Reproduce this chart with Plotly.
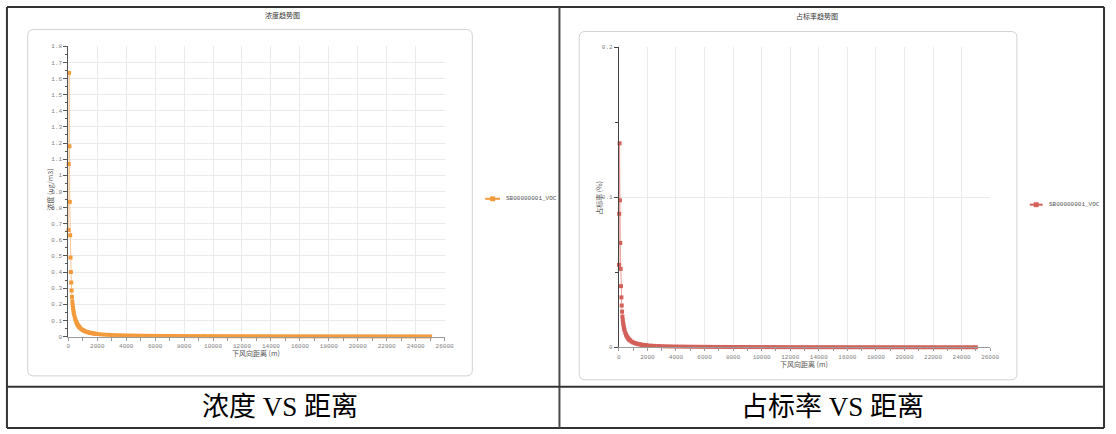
import plotly.graph_objects as go

W, H = 1116, 434

# Downwind distance (m) of each receptor
distance_m = [10, 25, 50, 75, 100, 125, 150, 175, 200, 225, 250, 275, 300, 325, 350, 375, 400,
              450, 500, 550, 600, 650, 700, 750, 800,
              900, 1000, 1100, 1200, 1300, 1400, 1500, 1600, 1700, 1800, 1900, 2000,
              2250,
              2500, 2750, 3000, 3250, 3500, 3750, 4000, 4250, 4500, 4750,
              5000, 5250, 5500, 5750, 6000, 6250, 6500, 6750, 7000, 7250,
              7500, 7750, 8000, 8250, 8500, 8750, 9000, 9250, 9500, 9750,
              10000, 10250, 10500, 10750, 11000, 11250, 11500, 11750, 12000, 12250,
              12500, 12750, 13000, 13250, 13500, 13750, 14000, 14250, 14500, 14750,
              15000, 15250, 15500, 15750, 16000, 16250, 16500, 16750, 17000, 17250,
              17500, 17750, 18000, 18250, 18500, 18750, 19000, 19250, 19500, 19750,
              20000, 20250, 20500, 20750, 21000, 21250, 21500, 21750, 22000, 22250,
              22500, 22750, 23000, 23250, 23500, 23750, 24000, 24250, 24500, 24750,
              25000]

# Ground-level concentration (ug/m3)
concentration = [0.66, 1.07, 1.635, 1.18, 0.835, 0.628, 0.49, 0.40, 0.335, 0.285, 0.246, 0.218, 0.196, 0.177, 0.161, 0.148, 0.136,
                 0.117, 0.102, 0.090, 0.080, 0.072, 0.065, 0.059, 0.054,
                 0.046, 0.040, 0.035, 0.031, 0.028, 0.025, 0.023, 0.021, 0.0195, 0.018, 0.0168, 0.0157,
                 0.0135,
                 0.0118, 0.0105, 0.0094, 0.0085, 0.0078, 0.0071, 0.0066, 0.0061, 0.0057, 0.0053,
                 0.0050, 0.0047, 0.0045, 0.0042, 0.0040, 0.0038, 0.0037, 0.0035, 0.0034, 0.0032,
                 0.0031, 0.0030, 0.0029, 0.0028, 0.0027, 0.0026, 0.0025, 0.0024, 0.0024, 0.0023,
                 0.0022, 0.0022, 0.0021, 0.0020, 0.0020, 0.0019, 0.0019, 0.0018, 0.0018, 0.0017,
                 0.0017, 0.0016, 0.0016, 0.0016, 0.0015, 0.0015, 0.0015, 0.0014, 0.0014, 0.0014,
                 0.0013, 0.0013, 0.0013, 0.0013, 0.0012, 0.0012, 0.0012, 0.0012, 0.0011, 0.0011,
                 0.0011, 0.0011, 0.0011, 0.0010, 0.0010, 0.0010, 0.0010, 0.0010, 0.00095, 0.00094,
                 0.00092, 0.00091, 0.00089, 0.00088, 0.00086, 0.00085, 0.00083, 0.00082, 0.00081, 0.00080,
                 0.00078, 0.00077, 0.00076, 0.00075, 0.00074, 0.00073, 0.00072, 0.00071, 0.00070, 0.00069,
                 0.00068]

# Share of the standard limit (%)
ratio_pct = [0.055, 0.089, 0.136, 0.098, 0.0696, 0.0523, 0.0408, 0.0333, 0.0279, 0.0238, 0.0205, 0.0182, 0.0163, 0.0148, 0.0134, 0.0123, 0.0113,
             0.0098, 0.0085, 0.0075, 0.0067, 0.0060, 0.0054, 0.0049, 0.0045,
             0.0038, 0.0033, 0.0029, 0.0026, 0.0023, 0.0021, 0.0019, 0.00175, 0.0016, 0.0015, 0.0014, 0.0013,
             0.00113,
             0.00098, 0.00088, 0.00078, 0.00071, 0.00065, 0.00059, 0.00055, 0.00051, 0.00048, 0.00044,
             0.00042, 0.00039, 0.00038, 0.00035, 0.00033, 0.00032, 0.00031, 0.00029, 0.00028, 0.00027,
             0.00026, 0.00025, 0.00024, 0.00023, 0.00023, 0.00022, 0.00021, 0.00020, 0.00020, 0.00019,
             0.00018, 0.00018, 0.00018, 0.00017, 0.00017, 0.00016, 0.00016, 0.00015, 0.00015, 0.00014,
             0.00014, 0.00013, 0.00013, 0.00013, 0.00013, 0.00012, 0.00012, 0.00012, 0.00012, 0.00012,
             0.00011, 0.00011, 0.00011, 0.00011, 0.00010, 0.00010, 0.00010, 0.00010, 0.000092, 0.000092,
             0.000092, 0.000092, 0.000092, 0.000083, 0.000083, 0.000083, 0.000083, 0.000083, 0.000079, 0.000078,
             0.000077, 0.000076, 0.000074, 0.000073, 0.000072, 0.000071, 0.000069, 0.000068, 0.000068, 0.000067,
             0.000065, 0.000064, 0.000063, 0.000063, 0.000062, 0.000061, 0.000060, 0.000059, 0.000058, 0.000058,
             0.000057]

series_name = "SB00000001_VOC"
chart_titles = ["浓度趋势图", "占标率趋势图"]
y_titles = ["浓度 (ug/m3)", "占标率 (%)"]
x_title = "下风向距离 (m)"
captions = ["浓度 VS 距离", "占标率 VS 距离"]

ORANGE = "#f39a3b"
ORANGE_LINE = "#f7c592"
RED = "#d4605a"
RED_LINE = "#e8a09b"


def fx(px):
    return px / W


def fy(py):
    return 1 - py / H


def rounded_box(x0, y0, x1, y1, r):
    p = [
        f"M{fx(x0 + r)},{fy(y0)}",
        f"L{fx(x1 - r)},{fy(y0)}",
        f"Q{fx(x1)},{fy(y0)} {fx(x1)},{fy(y0 + r)}",
        f"L{fx(x1)},{fy(y1 - r)}",
        f"Q{fx(x1)},{fy(y1)} {fx(x1 - r)},{fy(y1)}",
        f"L{fx(x0 + r)},{fy(y1)}",
        f"Q{fx(x0)},{fy(y1)} {fx(x0)},{fy(y1 - r)}",
        f"L{fx(x0)},{fy(y0 + r)}",
        f"Q{fx(x0)},{fy(y0)} {fx(x0 + r)},{fy(y0)}",
        "Z",
    ]
    return dict(type="path", path=" ".join(p), xref="paper", yref="paper",
                line=dict(color="#d2d2d2", width=1), layer="below")


def line_px(x0, y0, x1, y1, color, width):
    return dict(type="line", xref="paper", yref="paper",
                x0=fx(x0), y0=fy(y0), x1=fx(x1), y1=fy(y1),
                line=dict(color=color, width=width))


fig = go.Figure()

fig.add_trace(go.Scatter(
    x=distance_m, y=concentration, name=series_name, mode="lines+markers",
    line=dict(color=ORANGE_LINE, width=1),
    marker=dict(symbol="square", size=4, color=ORANGE),
    xaxis="x", yaxis="y", showlegend=False, cliponaxis=False,
))
fig.add_trace(go.Scatter(
    x=distance_m, y=ratio_pct, name=series_name, mode="lines+markers",
    line=dict(color=RED_LINE, width=1),
    marker=dict(symbol="square", size=4, color=RED),
    xaxis="x2", yaxis="y2", showlegend=False, cliponaxis=False,
))

tick_font = dict(family="Liberation Mono, DejaVu Sans Mono", size=6, color="#808080")
grid_col = "#ebebeb"

xcommon = dict(range=[0, 26000], dtick=2000, tick0=0, tickformat="d", showgrid=True,
               gridcolor=grid_col, gridwidth=1, zeroline=False, showline=True,
               linecolor="#9a9a9a", ticks="outside", ticklen=3, tickcolor="#9a9a9a",
               tickfont=tick_font,
               minor=dict(dtick=1000, ticks="outside", ticklen=3, tickcolor="#9a9a9a", showgrid=False))

fig.update_layout(
    width=W, height=H, margin=dict(l=0, r=0, t=0, b=0),
    paper_bgcolor="white", plot_bgcolor="white",
    xaxis=dict(domain=[fx(67), fx(447)], anchor="y", **xcommon),
    yaxis=dict(domain=[fy(339), fy(44)], anchor="x", range=[0, 1.8], dtick=0.1, tick0=0,
               showgrid=True, gridcolor=grid_col, zeroline=False, showline=True,
               linecolor="#555555", ticks="outside", ticklen=4, tickcolor="#555555",
               tickfont=tick_font,
               minor=dict(dtick=0.05, ticks="outside", ticklen=2, tickcolor="#555555", showgrid=False)),
    xaxis2=dict(domain=[fx(623), fx(998)], anchor="y2", **xcommon),
    yaxis2=dict(domain=[fy(350), fy(45)], anchor="x2", range=[0, 0.2], dtick=0.1, tick0=0,
                showgrid=True, gridcolor=grid_col, zeroline=False, showline=True,
                linecolor="#444444", ticks="outside", ticklen=4, tickcolor="#444444",
                tickfont=tick_font,
                minor=dict(dtick=0.05, ticks="outside", ticklen=3, tickcolor="#444444", showgrid=False)),
)

shapes = []
# table frame
frame = "#333333"
shapes.append(line_px(5, 4, 1113, 4, frame, 2))
shapes.append(line_px(5, 432, 1113, 432, frame, 2))
shapes.append(line_px(5, 4, 5, 432, frame, 2))
shapes.append(line_px(1113, 4, 1113, 432, frame, 2))
shapes.append(line_px(563, 4, 563, 432, "#4a4a4a", 2))
shapes.append(line_px(5, 390, 1113, 390, frame, 2))
# chart frames
shapes.append(rounded_box(26, 27, 475, 379, 6))
shapes.append(rounded_box(583, 29, 1025, 383, 6))
# legend keys
shapes.append(line_px(488, 199, 503, 199, ORANGE, 2))
shapes.append(dict(type="rect", xref="paper", yref="paper",
                   x0=fx(493), x1=fx(498), y0=fy(201.5), y1=fy(196.5),
                   fillcolor=ORANGE, line=dict(width=0)))
shapes.append(line_px(1038, 205, 1051, 205, RED, 2))
shapes.append(dict(type="rect", xref="paper", yref="paper",
                   x0=fx(1042), x1=fx(1047), y0=fy(207.5), y1=fy(202.5),
                   fillcolor=RED, line=dict(width=0)))
fig.update_layout(shapes=shapes)

small = dict(family="Noto Sans CJK SC", size=7, color="#555555")
ann = []


def text(x, y, s, font, xanchor="center", angle=0):
    ann.append(dict(x=fx(x), y=fy(y), xref="paper", yref="paper", text=s, showarrow=False,
                    font=font, xanchor=xanchor, yanchor="middle", textangle=angle))


text(283, 12, chart_titles[0], dict(family="Noto Sans CJK SC", size=7, color="#333333"))
text(823, 13, chart_titles[1], dict(family="Noto Sans CJK SC", size=7, color="#333333"))
text(48, 190, y_titles[0], small, angle=-90)
text(603, 198, y_titles[1], small, angle=-90)
text(257, 356, x_title, small)
text(810, 367, x_title, small)
text(507, 199, series_name, dict(family="Liberation Mono, DejaVu Sans Mono", size=6, color="#555555"), xanchor="left")
text(1055, 205, series_name, dict(family="Liberation Mono, DejaVu Sans Mono", size=6, color="#555555"), xanchor="left")
cap_font = dict(family="Liberation Serif, Noto Sans CJK SC", size=27, color="#000000")
text(281, 411, captions[0], cap_font)
text(839, 411, captions[1], cap_font)
fig.update_layout(annotations=ann)

fig.write_html("out.html")
